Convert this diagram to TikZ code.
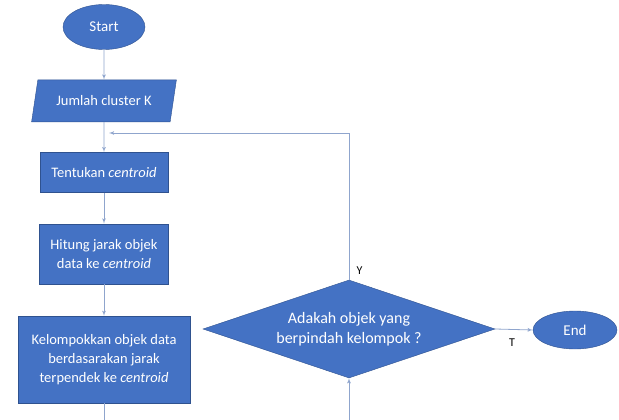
\documentclass[tikz,border=0pt]{standalone}
\usepackage{fontspec}
\setmainfont{Carlito}
\usepackage{xcolor}
\usepackage{tikz}
\usetikzlibrary{shapes,arrows,positioning,calc,shapes.geometric}

\definecolor{boxblue}{RGB}{68,114,196}
\definecolor{boxedge}{RGB}{47,82,143}
\definecolor{linegray}{RGB}{143,165,205}

\begin{document}
\begin{tikzpicture}[x=1pt, y=1pt, node distance=30pt, >=latex']
    \tikzstyle{block} = [rectangle, draw=boxedge, fill=boxblue, text=white, align=center, font=\fontsize{14.5}{19}\selectfont]
    \tikzstyle{term} = [ellipse, draw=boxedge, fill=boxblue, text=white, font=\fontsize{15}{17}\selectfont]
    \tikzstyle{io} = [trapezium, trapezium left angle=74, trapezium right angle=106, trapezium stretches=true, draw=boxedge, fill=boxblue, text=white, font=\fontsize{14.5}{17}\selectfont]
    \tikzstyle{decide} = [diamond, shape aspect=3, draw=boxedge, fill=boxblue, text=white, align=center, inner sep=0pt, font=\fontsize{16}{20}\selectfont]
    \tikzstyle{line} = [draw, -latex', linegray, thick]

    \useasboundingbox (0,0) rectangle (619,-420);

    \node [term, minimum width=82pt, minimum height=45pt] (start) at (104,-27) {Start};
    \node [io, minimum width=145pt, minimum height=42pt, below=30pt of start] (jumlah) {Jumlah cluster K};
    \node [block, minimum width=128pt, minimum height=40pt, below=30pt of jumlah] (tentukan) {Tentukan \textit{centroid}};
    \node [block, minimum width=129pt, minimum height=60pt, below=31pt of tentukan] (hitung) {Hitung jarak objek\\data ke \textit{centroid}};
    \node [block, minimum width=172pt, minimum height=87pt, below=32pt of hitung] (kelompok) {Kelompokkan objek data\\berdasarakan jarak\\terpendek ke \textit{centroid}};
    \node [decide, minimum width=292pt, minimum height=98pt] (adakah) at (349,-329) {Adakah objek yang\\berpindah kelompok ?};
    \node [term, minimum width=84pt, minimum height=38pt] (end) at (575,-330) {End};

    \coordinate (balik) at (start.south |- 0,-133);
    \coordinate (kbawah) at (kelompok.south |- 0,-420);
    \coordinate (abawah) at (adakah.south |- 0,-420);

    \draw [line] (start) -- (jumlah);
    \draw [line] (jumlah) -- (tentukan);
    \draw [line] (tentukan) -- (hitung);
    \draw [line] (hitung) -- (kelompok);
    \draw [line, shorten >=5pt] (adakah.north) |- (balik);
    \draw [line] (adakah.east) -- (end.west);
    \draw [linegray, thick] (kelompok.south) -- (kbawah);
    \draw [line] (abawah) -- (adakah.south);

    \node [font=\fontsize{12}{14}\selectfont, above right=2pt and 4pt of adakah.north] (ya) {Y};
    \node [font=\fontsize{12}{14}\selectfont] (tidak) at (512,-343) {T};
\end{tikzpicture}
\end{document}
